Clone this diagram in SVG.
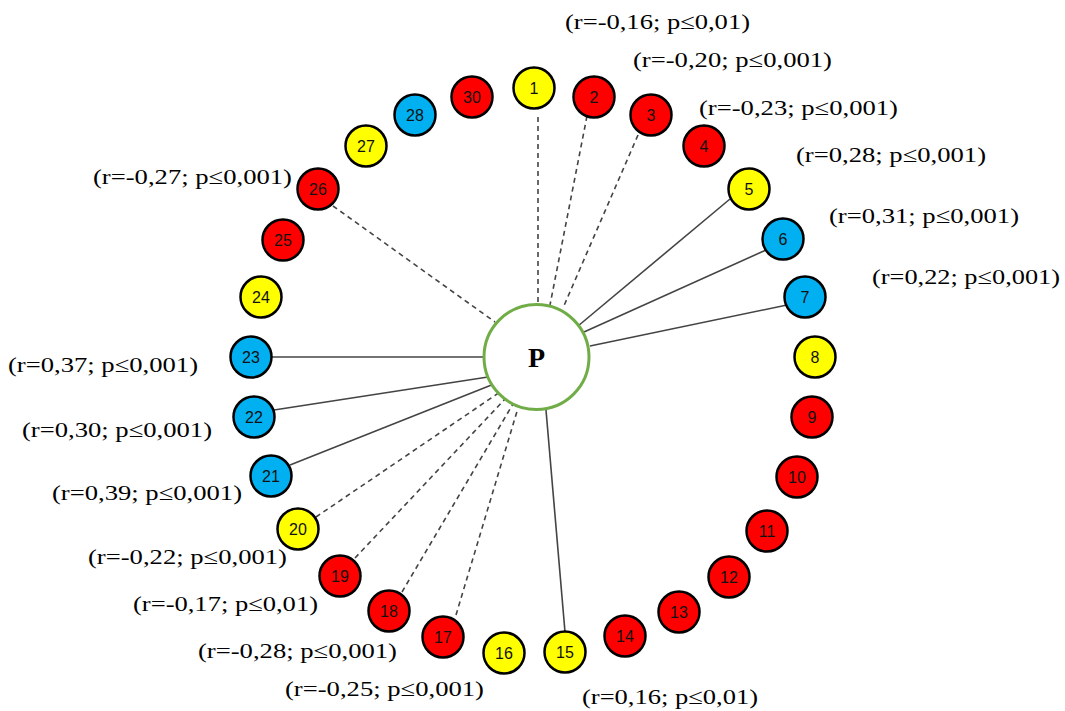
<svg xmlns="http://www.w3.org/2000/svg" width="1065" height="711" viewBox="0 0 1065 711">
<style>
.n circle{stroke:#000;stroke-width:2.5}
.r{fill:#FF0000}.y{fill:#FFFF00}.b{fill:#00B0F0}
.n text{font-family:"Liberation Sans",Arial,sans-serif;font-size:16px;fill:#111;text-anchor:middle;dominant-baseline:central}
.lbl{font-family:"Liberation Serif","Times New Roman",serif;font-size:22px;fill:#000}
.c line{stroke:#444;stroke-width:1.6}
.c .d{stroke-dasharray:5 4}
</style>
<rect width="1065" height="711" fill="#fff"/>
<g class="c" id="connectors">
<line class="d" x1="538" y1="117" x2="538" y2="303"/>
<line class="d" x1="587" y1="116" x2="550" y2="305"/>
<line class="d" x1="638" y1="135" x2="563" y2="308"/>
<line x1="730" y1="199" x2="578" y2="326"/>
<line x1="766" y1="250" x2="584" y2="332"/>
<line x1="787" y1="305" x2="590" y2="346"/>
<line x1="565" y1="632" x2="546" y2="410"/>
<line class="d" x1="456" y1="615" x2="518" y2="408"/>
<line class="d" x1="402" y1="592" x2="513" y2="404"/>
<line class="d" x1="355" y1="558" x2="506" y2="398"/>
<line class="d" x1="316" y1="517" x2="500" y2="392"/>
<line x1="290" y1="465" x2="494" y2="384"/>
<line x1="274" y1="410" x2="488" y2="377"/>
<line x1="272" y1="357" x2="483" y2="357"/>
<line class="d" x1="333" y1="206" x2="495" y2="322"/>
</g>
<g id="P"><circle cx="536.5" cy="357" r="52.5" fill="#fff" stroke="#70AD47" stroke-width="3"/><text x="536.5" y="367" text-anchor="middle" font-family="Liberation Serif,serif" font-weight="bold" font-size="28">P</text></g>
<g class="n" id="n1"><circle class="y" cx="534" cy="88" r="20.5"/><text x="534" y="88">1</text></g>
<g class="n" id="n2"><circle class="r" cx="594" cy="97" r="20.5"/><text x="594" y="97">2</text></g>
<g class="n" id="n3"><circle class="r" cx="651" cy="115" r="20.5"/><text x="651" y="115">3</text></g>
<g class="n" id="n4"><circle class="r" cx="704" cy="146" r="20.5"/><text x="704" y="146">4</text></g>
<g class="n" id="n5"><circle class="y" cx="749" cy="189" r="20.5"/><text x="749" y="189">5</text></g>
<g class="n" id="n6"><circle class="b" cx="783" cy="239" r="20.5"/><text x="783" y="239">6</text></g>
<g class="n" id="n7"><circle class="b" cx="805" cy="297" r="20.5"/><text x="805" y="297">7</text></g>
<g class="n" id="n8"><circle class="y" cx="815" cy="357" r="20.5"/><text x="815" y="357">8</text></g>
<g class="n" id="n9"><circle class="r" cx="812" cy="417" r="20.5"/><text x="812" y="417">9</text></g>
<g class="n" id="n10"><circle class="r" cx="797" cy="477" r="20.5"/><text x="797" y="477">10</text></g>
<g class="n" id="n11"><circle class="r" cx="767" cy="531" r="20.5"/><text x="767" y="531">11</text></g>
<g class="n" id="n12"><circle class="r" cx="729" cy="577" r="20.5"/><text x="729" y="577">12</text></g>
<g class="n" id="n13"><circle class="r" cx="679" cy="612" r="20.5"/><text x="679" y="612">13</text></g>
<g class="n" id="n14"><circle class="r" cx="625" cy="636" r="20.5"/><text x="625" y="636">14</text></g>
<g class="n" id="n15"><circle class="y" cx="565" cy="652" r="20.5"/><text x="565" y="652">15</text></g>
<g class="n" id="n16"><circle class="y" cx="504" cy="653" r="20.5"/><text x="504" y="653">16</text></g>
<g class="n" id="n17"><circle class="r" cx="443" cy="637" r="20.5"/><text x="443" y="637">17</text></g>
<g class="n" id="n18"><circle class="r" cx="389" cy="611" r="20.5"/><text x="389" y="611">18</text></g>
<g class="n" id="n19"><circle class="r" cx="340" cy="576" r="20.5"/><text x="340" y="576">19</text></g>
<g class="n" id="n20"><circle class="y" cx="298" cy="529" r="20.5"/><text x="298" y="529">20</text></g>
<g class="n" id="n21"><circle class="b" cx="271" cy="476" r="20.5"/><text x="271" y="476">21</text></g>
<g class="n" id="n22"><circle class="b" cx="254" cy="417" r="20.5"/><text x="254" y="417">22</text></g>
<g class="n" id="n23"><circle class="b" cx="251" cy="357" r="20.5"/><text x="251" y="357">23</text></g>
<g class="n" id="n24"><circle class="y" cx="261" cy="297" r="20.5"/><text x="261" y="297">24</text></g>
<g class="n" id="n25"><circle class="r" cx="283" cy="240" r="20.5"/><text x="283" y="240">25</text></g>
<g class="n" id="n26"><circle class="r" cx="318" cy="189" r="20.5"/><text x="318" y="189">26</text></g>
<g class="n" id="n27"><circle class="y" cx="366" cy="146" r="20.5"/><text x="366" y="146">27</text></g>
<g class="n" id="n28"><circle class="b" cx="415" cy="115" r="20.5"/><text x="415" y="115">28</text></g>
<g class="n" id="n30"><circle class="r" cx="472" cy="97" r="20.5"/><text x="472" y="97">30</text></g>
<g id="labels">
<text class="lbl" x="565" y="29" textLength="185" lengthAdjust="spacingAndGlyphs">(r=-0,16; p≤0,01)</text>
<text class="lbl" x="633" y="67" textLength="199" lengthAdjust="spacingAndGlyphs">(r=-0,20; p≤0,001)</text>
<text class="lbl" x="699" y="115" textLength="199" lengthAdjust="spacingAndGlyphs">(r=-0,23; p≤0,001)</text>
<text class="lbl" x="796" y="162" textLength="190" lengthAdjust="spacingAndGlyphs">(r=0,28; p≤0,001)</text>
<text class="lbl" x="829" y="223" textLength="190" lengthAdjust="spacingAndGlyphs">(r=0,31; p≤0,001)</text>
<text class="lbl" x="872" y="284" textLength="188" lengthAdjust="spacingAndGlyphs">(r=0,22; p≤0,001)</text>
<text class="lbl" x="93" y="184" textLength="199" lengthAdjust="spacingAndGlyphs">(r=-0,27; p≤0,001)</text>
<text class="lbl" x="8" y="372" textLength="190" lengthAdjust="spacingAndGlyphs">(r=0,37; p≤0,001)</text>
<text class="lbl" x="22" y="437" textLength="190" lengthAdjust="spacingAndGlyphs">(r=0,30; p≤0,001)</text>
<text class="lbl" x="52" y="500" textLength="190" lengthAdjust="spacingAndGlyphs">(r=0,39; p≤0,001)</text>
<text class="lbl" x="88" y="564" textLength="199" lengthAdjust="spacingAndGlyphs">(r=-0,22; p≤0,001)</text>
<text class="lbl" x="133" y="611" textLength="185" lengthAdjust="spacingAndGlyphs">(r=-0,17; p≤0,01)</text>
<text class="lbl" x="198" y="658" textLength="199" lengthAdjust="spacingAndGlyphs">(r=-0,28; p≤0,001)</text>
<text class="lbl" x="285" y="696" textLength="199" lengthAdjust="spacingAndGlyphs">(r=-0,25; p≤0,001)</text>
<text class="lbl" x="582" y="704" textLength="176" lengthAdjust="spacingAndGlyphs">(r=0,16; p≤0,01)</text>
</g>
</svg>
